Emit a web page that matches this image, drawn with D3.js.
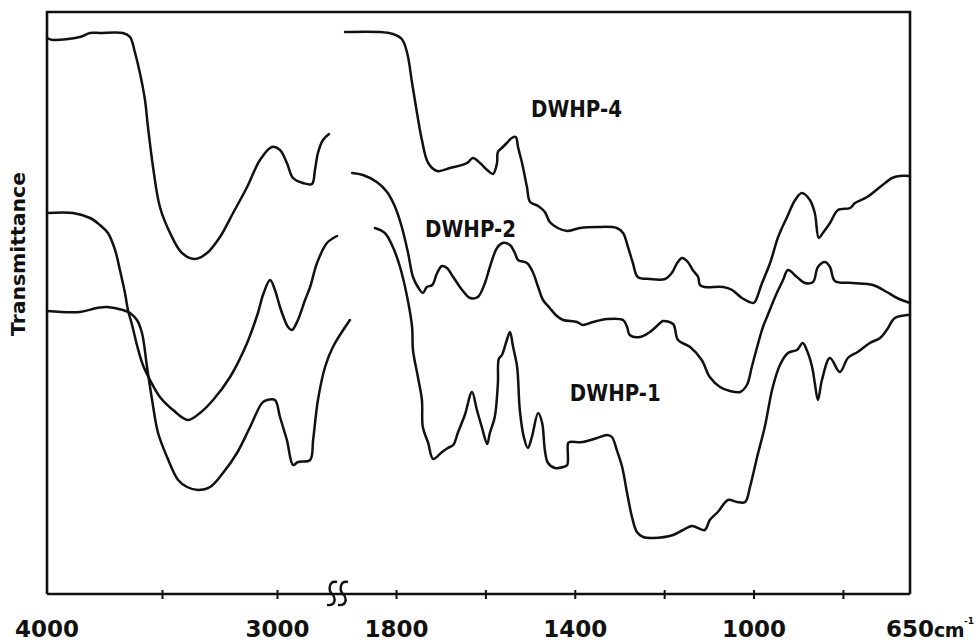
<!DOCTYPE html>
<html>
<head>
<meta charset="utf-8">
<script src="https://cdn.jsdelivr.net/npm/d3@7"></script>
<style>
  html, body { margin: 0; padding: 0; background: #fff; }
  svg { display: block; }
  text { font-family: "DejaVu Sans", sans-serif; font-weight: bold; fill: #111; }
</style>
</head>
<body>
<svg id="chart" width="979" height="642"></svg>
<script>
// ---- Data: wavenumber (cm-1) vs transmittance (arbitrary units, no scale shown) ----
// High-frequency region (4000 – ~2700 cm-1)
const dwhp4High = [[4000,556],[3974,554],[3857,557],[3813,561],[3770,561],[3670,561],[3639,557],[3617,541],[3596,521],[3574,494],[3561,467],[3539,427],[3509,387],[3465,361],[3413,341],[3357,335],[3304,341],[3248,357],[3191,381],[3130,407],[3074,434],[3022,447],[2987,444],[2957,431],[2930,416],[2887,411],[2848,410],[2835,424],[2822,441],[2800,454],[2774,460]];
const dwhp2High = [[4000,381],[3887,381],[3813,376],[3770,369],[3735,361],[3704,344],[3683,324],[3661,301],[3648,284],[3630,269],[3609,249],[3583,229],[3552,214],[3509,197],[3452,184],[3387,174],[3335,181],[3278,194],[3204,217],[3130,251],[3083,281],[3061,299],[3030,314],[3009,304],[2987,287],[2970,276],[2952,267],[2935,264],[2909,274],[2878,294],[2856,307],[2826,331],[2783,351],[2739,358]];
const dwhp1High = [[4000,283],[3857,282],[3783,286],[3739,287],[3670,284],[3639,281],[3609,274],[3587,261],[3565,227],[3543,194],[3517,161],[3478,137],[3430,114],[3391,107],[3343,104],[3291,107],[3235,121],[3174,141],[3117,167],[3065,191],[3043,194],[3009,194],[2987,177],[2957,154],[2930,129],[2909,132],[2856,134],[2843,154],[2822,194],[2791,227],[2757,247],[2683,274]];
// Fingerprint region (~1900 – 650 cm-1)
const dwhp4Low = [[1914,562],[1836,562],[1807,560],[1787,555],[1775,541],[1764,511],[1753,481],[1742,454],[1728,431],[1708,423],[1679,426],[1641,431],[1628,436],[1612,431],[1596,424],[1583,420],[1574,431],[1572,442],[1561,447],[1552,451],[1541,456],[1532,457],[1527,447],[1518,431],[1507,407],[1500,392],[1482,388],[1467,382],[1456,372],[1438,366],[1417,363],[1388,366],[1350,367],[1306,366],[1292,361],[1281,347],[1270,331],[1259,317],[1232,315],[1198,315],[1183,321],[1171,331],[1160,336],[1147,332],[1136,324],[1124,317],[1120,309],[1109,307],[1068,307],[1048,304],[1026,296],[1001,291],[997,292],[981,311],[963,331],[945,357],[925,377],[907,394],[892,401],[874,394],[863,381],[854,356],[845,361],[829,371],[811,384],[784,386],[773,391],[746,397],[717,407],[690,416],[673,418],[650,418]];
const dwhp2Low = [[1898,421],[1874,419],[1843,412],[1820,402],[1802,387],[1787,367],[1773,341],[1762,317],[1751,307],[1740,301],[1731,307],[1719,309],[1708,321],[1697,328],[1686,326],[1672,317],[1652,304],[1634,296],[1617,297],[1601,311],[1590,327],[1574,346],[1561,351],[1545,349],[1534,341],[1527,334],[1507,331],[1494,322],[1482,307],[1471,294],[1456,286],[1440,278],[1426,274],[1395,272],[1382,269],[1359,272],[1328,275],[1292,274],[1283,267],[1277,259],[1254,257],[1232,262],[1209,271],[1203,273],[1180,270],[1169,254],[1142,247],[1116,234],[1098,217],[1075,207],[1053,203],[1030,202],[1015,209],[1004,227],[992,247],[979,267],[970,277],[948,301],[934,314],[923,324],[903,317],[885,311],[867,312],[856,327],[840,332],[829,327],[818,313],[778,311],[733,309],[702,302],[679,296],[650,291]];
const dwhp1Low = [[1847,366],[1825,361],[1807,347],[1791,327],[1775,297],[1764,267],[1762,244],[1751,217],[1742,194],[1740,167],[1728,151],[1717,135],[1697,142],[1684,146],[1672,149],[1661,162],[1646,179],[1630,202],[1619,184],[1608,167],[1596,150],[1590,161],[1579,177],[1572,211],[1570,235],[1563,239],[1552,254],[1545,262],[1538,247],[1529,227],[1523,184],[1514,157],[1505,146],[1496,157],[1482,181],[1473,171],[1467,144],[1460,131],[1444,126],[1426,127],[1417,129],[1415,151],[1411,152],[1382,152],[1350,156],[1328,159],[1317,157],[1306,144],[1294,127],[1283,101],[1272,77],[1261,62],[1247,57],[1225,56],[1180,59],[1158,64],[1138,68],[1109,64],[1098,74],[1080,82],[1057,94],[1037,92],[1019,92],[1008,107],[992,137],[975,167],[957,207],[941,229],[923,241],[903,244],[890,251],[881,244],[869,227],[863,211],[856,194],[847,214],[829,236],[807,222],[789,236],[767,242],[740,251],[717,256],[702,264],[684,276],[657,279],[650,279]];

const seriesNames = ["DWHP-4", "DWHP-2", "DWHP-1"];
const labelAnchors = [[1498, 477], [1735, 357], [1411, 193]]; // [wavenumber, transmittance] where each name starts
const tickValuesHigh = [3500, 3000];
const tickValuesLow = [1800, 1600, 1400, 1200, 1000, 800];
const tickLabels = {4000: "4000", 3000: "3000", 1800: "1800", 1400: "1400", 1000: "1000"};
const endLabel = {value: 650, number: "650", unit: "cm", exp: "-1"};
const yTitle = "Transmittance";

// ---- Layout ----
const frame = {left: 47, right: 910, top: 12, bottom: 594};
const breakX = 338;

const xHigh = d3.scaleLinear().domain([4000, 3000]).range([47, 277]);
const xLow = d3.scaleLinear().domain([1800, 650]).range([396, 910]);
const y = d3.scaleLinear().domain([0, 582]).range([frame.bottom, frame.top]);

const svg = d3.select("#chart");
const ink = "#111";

// frame (left, top, right)
svg.append("path")
  .attr("d", `M${frame.left},${frame.bottom} L${frame.left},${frame.top} L${frame.right},${frame.top} L${frame.right},${frame.bottom}`)
  .attr("fill", "none").attr("stroke", ink).attr("stroke-width", 2.6);

// curves
const lineHigh = d3.line().x(d => xHigh(d[0])).y(d => y(d[1])).curve(d3.curveCatmullRom.alpha(0.5));
const lineLow = d3.line().x(d => xLow(d[0])).y(d => y(d[1])).curve(d3.curveCatmullRom.alpha(0.5));
[dwhp4High, dwhp2High, dwhp1High].forEach(s => {
  svg.append("path").attr("d", lineHigh(s)).attr("fill", "none")
    .attr("stroke", ink).attr("stroke-width", 2.5).attr("stroke-linejoin", "round").attr("stroke-linecap", "round");
});
[dwhp4Low, dwhp2Low, dwhp1Low].forEach(s => {
  svg.append("path").attr("d", lineLow(s)).attr("fill", "none")
    .attr("stroke", ink).attr("stroke-width", 2.5).attr("stroke-linejoin", "round").attr("stroke-linecap", "round");
});

// series names
seriesNames.forEach((n, i) => {
  svg.append("text")
    .attr("x", xLow(labelAnchors[i][0])).attr("y", y(labelAnchors[i][1]))
    .attr("font-size", 23)
    .attr("textLength", 91).attr("lengthAdjust", "spacingAndGlyphs")
    .text(n);
});

// bottom axis line
svg.append("line").attr("x1", frame.left).attr("x2", frame.right)
  .attr("y1", frame.bottom).attr("y2", frame.bottom)
  .attr("stroke", ink).attr("stroke-width", 2.4);

// axes with ticks (crossing the line)
function styleAxis(g) {
  g.select(".domain").remove();
  g.selectAll(".tick line").attr("y1", -4).attr("y2", 5).attr("stroke", ink).attr("stroke-width", 2);
  g.selectAll(".tick text").attr("font-size", 23).attr("dy", 0).attr("y", 43)
    .attr("font-family", "DejaVu Sans, sans-serif").attr("font-weight", "bold").attr("fill", ink);
}
svg.append("g").attr("transform", `translate(0,${frame.bottom})`)
  .call(d3.axisBottom(xHigh).tickValues(tickValuesHigh).tickSize(5).tickFormat(d => tickLabels[d] || ""))
  .call(styleAxis);
svg.append("g").attr("transform", `translate(0,${frame.bottom})`)
  .call(d3.axisBottom(xLow).tickValues(tickValuesLow).tickSize(5).tickFormat(d => tickLabels[d] || ""))
  .call(styleAxis);

// corner labels (4000 at the frame corner, 650 cm-1 at the right corner)
svg.append("text").attr("x", xHigh(4000)).attr("y", frame.bottom + 43)
  .attr("text-anchor", "middle").attr("font-size", 23).text(tickLabels[4000]);
const endText = svg.append("text").attr("x", xLow(endLabel.value) - 24).attr("y", frame.bottom + 43)
  .attr("font-size", 23);
endText.append("tspan").text(endLabel.number);
endText.append("tspan").attr("font-size", 19).attr("letter-spacing", -0.5).text(endLabel.unit);
endText.append("tspan").attr("font-size", 9).attr("dy", -13).text(endLabel.exp);

// axis break mark "SS"
[0, 11].forEach(off => {
  const cx = breakX - 6 + off;
  svg.append("path")
    .attr("d", `M${cx + 5},${frame.bottom - 12} C${cx - 3},${frame.bottom - 14} ${cx - 4},${frame.bottom - 4} ${cx},${frame.bottom} C${cx + 4},${frame.bottom + 4} ${cx + 4},${frame.bottom + 12} ${cx - 5},${frame.bottom + 11}`)
    .attr("fill", "none").attr("stroke", ink).attr("stroke-width", 2.4);
});

// y title
svg.append("text")
  .attr("transform", `translate(25,254) rotate(-90)`)
  .attr("text-anchor", "middle").attr("font-size", 20)
  .attr("textLength", 164).attr("lengthAdjust", "spacingAndGlyphs")
  .text(yTitle);
</script>
</body>
</html>
